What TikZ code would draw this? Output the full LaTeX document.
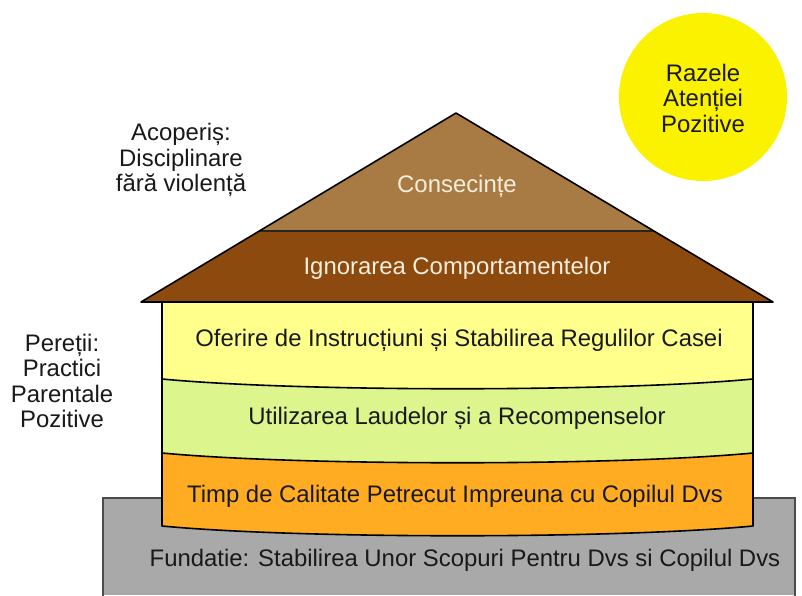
\documentclass[tikz,border=0pt]{standalone}
\usepackage{fontspec}
\setmainfont{Liberation Sans}
\usetikzlibrary{calc}
\definecolor{rooftop}{HTML}{A87A44}
\definecolor{roofbot}{HTML}{8C4A0E}
\definecolor{wallyellow}{HTML}{FFFF8C}
\definecolor{wallgreen}{HTML}{DCF58C}
\definecolor{wallorange}{HTML}{FFAC22}
\definecolor{foundgray}{HTML}{A9A9A9}
\definecolor{sunyellow}{HTML}{FBF200}
\definecolor{rooftext}{HTML}{F7EEDC}
\begin{document}
\begin{tikzpicture}[x=1pt,y=-1pt,
  txt/.style={font=\fontsize{23.9}{25.5}\selectfont, align=center, inner sep=0pt, text=black!90},
  outline/.style={draw=black, line width=1.6pt, line join=round}]
\useasboundingbox (0,0) rectangle (802,595);
\fill[white] (0,0) rectangle (802,595);

% foundation
\fill[foundgray] (103,498) rectangle (795,595);
\draw[draw=black!70, line width=1.5pt] (103,596) -- (103,498) -- (795,498) -- (795,596);

% walls
\fill[wallorange] (162,300) -- (162,526) .. controls (300,539) and (615,539) .. (753,526) -- (753,300) -- cycle;
\fill[wallgreen] (162,300) -- (162,453) .. controls (300,466) and (615,466) .. (753,453) -- (753,300) -- cycle;
\fill[wallyellow] (162,300) -- (162,379) .. controls (300,392) and (615,392) .. (753,379) -- (753,300) -- cycle;
\draw[outline] (162,379) .. controls (300,392) and (615,392) .. (753,379);
\draw[outline] (162,453) .. controls (300,466) and (615,466) .. (753,453);
\draw[outline] (162,300) -- (162,526) .. controls (300,539) and (615,539) .. (753,526) -- (753,300);

% roof
\coordinate (apex) at (456,113);
\coordinate (RL) at (141,302);
\coordinate (RR) at (773,302);
\coordinate (DL) at ($(apex)!0.624!(RL)$);
\coordinate (DR) at ($(apex)!0.624!(RR)$);
\fill[roofbot] (apex) -- (RL) -- (RR) -- cycle;
\fill[rooftop] (apex) -- (DL) -- (DR) -- cycle;
\draw[draw=black!85, line width=1.6pt] (DL) -- (DR);
\draw[outline] (apex) -- (RL) -- (RR) -- cycle;

% sun
\fill[sunyellow] (703,97) circle (84);

% texts
\node[txt, text=rooftext] (cons) at (457,186) {Consecințe};
\node[txt, text=rooftext] (ignor) at (457,268) {Ignorarea Comportamentelor};
\node[txt] (ofer) at (459,340) {Oferire de Instrucțiuni și Stabilirea Regulilor Casei};
\node[txt] (util) at (457,418) {Utilizarea Laudelor și a Recompenselor};
\node[txt] (timp) at (455,496) {Timp de Calitate Petrecut Impreuna cu Copilul Dvs};
\node[txt] (fund) at (465,560) {Fundatie: Stabilirea Unor Scopuri Pentru Dvs si Copilul Dvs};
\node[txt] (acop) at (181,160) {Acoperiș:\\Disciplinare\\fără violență};
\node[txt] (peret) at (62,381) {Pereții:\\Practici\\Parentale\\Pozitive};
\node[txt] (raze) at (703,98) {Razele\\Atenției\\Pozitive};
\end{tikzpicture}
\end{document}
